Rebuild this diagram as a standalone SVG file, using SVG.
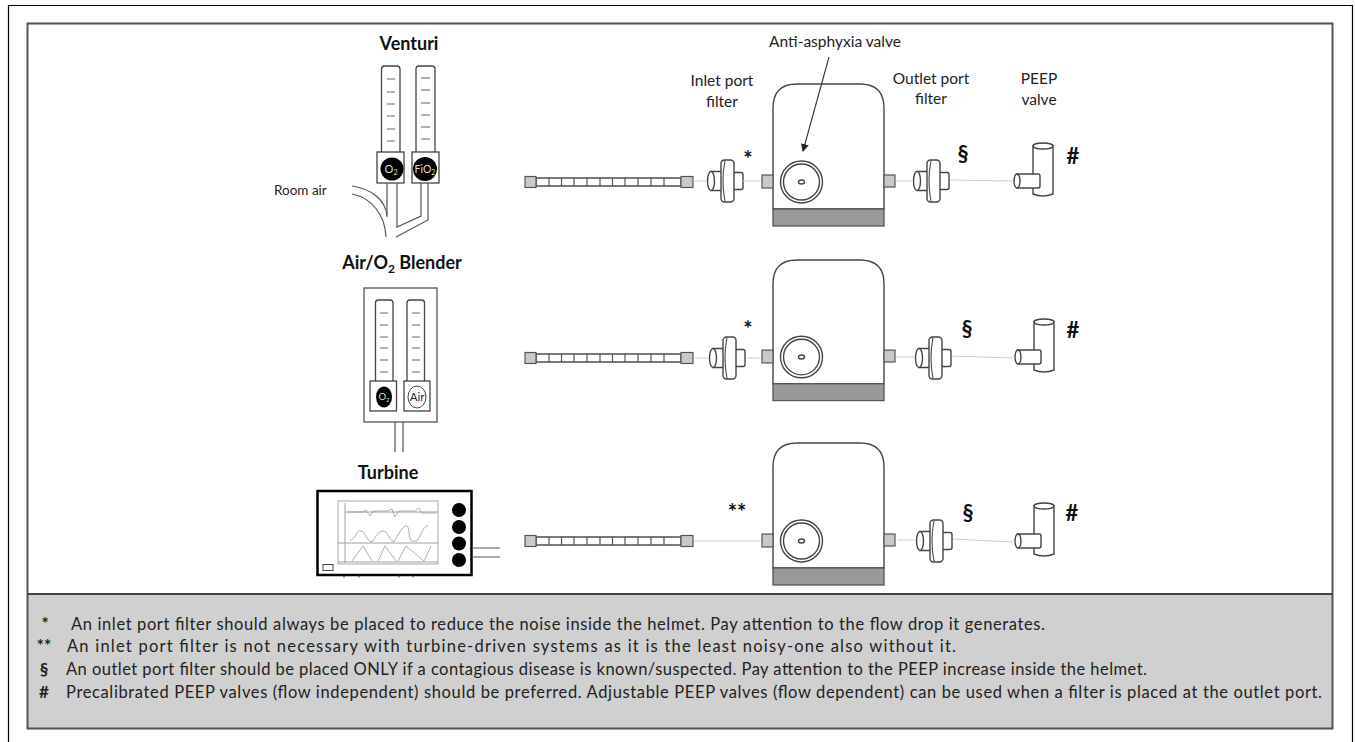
<svg xmlns="http://www.w3.org/2000/svg" width="1355" height="742" viewBox="0 0 1355 742">
<style>
text{font-family:Lato,"Open Sans","Liberation Sans",sans-serif;fill:#222}
.t{font-size:15.500px;text-anchor:middle}
.h{font-size:18px;font-weight:700;text-anchor:middle;fill:#111}
.m{font-size:22px;font-weight:700;text-anchor:middle;fill:#111}
.n{font-size:16.500px}
.nm{font-size:17px;font-weight:700;text-anchor:middle}
.o{fill:#fff;stroke:#444;stroke-width:1.400}
.l{fill:none;stroke:#555;stroke-width:1.200}
.d{fill:none;stroke:#444;stroke-width:1.300}
.p{fill:#c9c9c9;stroke:#555;stroke-width:1.200}
.c{fill:none;stroke:#ccc;stroke-width:1}
.tk{stroke:#666;stroke-width:1.100}
</style>
<defs>
<marker id="ah" markerWidth="8" markerHeight="8" refX="7" refY="4" orient="auto" markerUnits="userSpaceOnUse"><path d="M0 0L8 4L0 8z" fill="#222"/></marker>
<g id="tube">
<rect class="o" x="536" y="-4" width="145" height="8"/>
<path class="l" d="M549 -4v8M561.500 -4v8M574 -4v8M587 -4v8M600 -4v8M612.500 -4v8M625 -4v8M638 -4v8M651 -4v8M664 -4v8"/>
<rect class="p" x="525" y="-5.500" width="11" height="11"/>
<rect class="p" x="681" y="-5.500" width="12" height="11"/>
</g>
<g id="filt">
<rect class="o" x="21" y="-8.500" width="11" height="17" rx="2"/>
<path class="o" d="M0 -9.500H13V9.500H0z"/>
<ellipse class="o" cx="0" cy="0" rx="3.500" ry="9.500"/>
<rect class="o" x="10" y="-21" width="13" height="42" rx="3.500"/>
<path class="l" d="M14 -20.500q-4 20.500 0 41"/>
</g>
<g id="peep">
<path class="o" d="M0 3V51q10 4 20 0V3z"/>
<ellipse class="o" cx="10" cy="3" rx="10" ry="3"/>
<path class="o" d="M-16 31H5q2 0 2 2V43q0 2 -2 2H-16z"/>
<ellipse class="o" cx="-16" cy="38" rx="3" ry="7"/>
</g>
<g id="helm">
<path class="o" d="M0 125V24Q0 0 24 0H87Q111 0 111 24V125z"/>
<rect x="0" y="125" width="111" height="17" fill="#999" stroke="#555" stroke-width="1.300"/>
<rect class="p" x="-11" y="91" width="11" height="13"/>
<rect class="p" x="111" y="91" width="11" height="12"/>
<circle class="o" cx="28.500" cy="98" r="21"/>
<circle class="o" cx="28.500" cy="98" r="18"/>
<ellipse class="o" cx="28.500" cy="98" rx="3" ry="2"/>
</g>
</defs>
<rect width="1355" height="742" fill="#fff"/>
<path d="M8.500 742V5.500H1352.500V742" fill="none" stroke="#000" stroke-width="1.200"/>
<rect id="panel" x="27.500" y="594" width="1305" height="134.500" fill="#d0d0d0"/>
<rect id="frame" x="27.500" y="23.500" width="1305" height="705" fill="none" stroke="#555" stroke-width="2"/>
<path d="M27.500 594H1332.500" stroke="#444" stroke-width="2"/>

<g id="venturi">
<text class="h" x="409" y="50">Venturi</text>
<rect class="d" x="381.500" y="66" width="18.500" height="100" rx="3"/>
<rect class="d" x="416" y="66" width="19" height="100" rx="3"/>
<path class="tk" d="M387 79h8M387 92h8M387 104h8M387 116h8M387 129h8M387 141h8M421 78h9M421 90h9M421 103h9M421 115h9M421 127h9M421 139h9"/>
<rect x="377" y="152" width="27" height="31" fill="#fff" stroke="#444" stroke-width="1.300"/>
<rect x="412" y="152" width="27" height="31" fill="#fff" stroke="#444" stroke-width="1.300"/>
<circle cx="392" cy="169" r="11.500" fill="#000"/>
<circle cx="425" cy="169" r="12" fill="#000"/>
<text x="391" y="173" font-size="11" text-anchor="middle" style="fill:#ddd">O<tspan font-size="7" dy="2" style="fill:#ddd">2</tspan></text>
<text x="425" y="173" font-size="10.500" text-anchor="middle" style="fill:#ddd">FiO<tspan font-size="7" dy="2" style="fill:#ddd">2</tspan></text>
<path class="l" d="M387 183V217M397 183V227L421 216V183M428 183V220L396 237"/>
<path class="l" d="M352 186C372 189 385 200 387 215M352 194C372 198 385 215 386 237"/>
<text x="274" y="195" font-size="13.500">Room air</text>
</g>

<g id="blender">
<text class="h" x="402" y="269">Air/O<tspan font-size="12" dy="4">2</tspan><tspan dy="-4"> Blender</tspan></text>
<rect x="364" y="288" width="73" height="134" fill="#fff" stroke="#555" stroke-width="1.300"/>
<rect class="d" x="375.500" y="300" width="17.500" height="90" rx="3"/>
<rect class="d" x="407" y="300" width="17.500" height="90" rx="3"/>
<path class="tk" d="M380 313h8M380 325h8M380 337h8M380 348h8M380 360h8M380 372h8M412 313h8M412 325h8M412 337h8M412 348h8M412 360h8M412 372h8"/>
<rect x="370" y="381" width="26.500" height="30" fill="#fff" stroke="#444" stroke-width="1.300"/>
<rect x="404" y="381" width="26" height="30" fill="#fff" stroke="#444" stroke-width="1.300"/>
<ellipse cx="384" cy="397" rx="8" ry="10.500" fill="#000"/>
<ellipse cx="417" cy="397" rx="9" ry="11" fill="#fff" stroke="#444"/>
<text x="384" y="400" font-size="9.500" text-anchor="middle" style="fill:#ddd">O<tspan font-size="6" dy="2" style="fill:#ddd">2</tspan></text>
<text x="417" y="401" font-size="11.500" text-anchor="middle">Air</text>
<path class="l" d="M395 422V452M403 422V452"/>
</g>

<g id="turbine">
<text class="h" x="388" y="479">Turbine</text>
<rect x="317.500" y="491" width="154" height="84" fill="#fff" stroke="#000" stroke-width="2.500"/>
<rect x="338" y="501" width="100" height="63" fill="#fff" stroke="#aaa"/>
<path d="M345 503V563M345 512H438M338 543H438M338 562H438" fill="none" stroke="#888" stroke-width=".8"/>
<path d="M348 512h15l3 -2 4 6 3 -5h14l5 -2 3 8 4 -6h16l4 -3 3 5h14" fill="none" stroke="#999" stroke-width=".8"/>
<path d="M350 541C358 536 356 530 361 531C366 532 366 541 372 542C376 536 380 530 384 531C388 532 389 540 394 542C398 535 403 525 407 526C410 527 408 540 412 541H417C421 535 424 525 428 526" fill="none" stroke="#999" stroke-width=".8"/>
<path d="M352 561L363 546L372 561M378 561L385 546L396 561M398 561L406 546L424 561L431 546" fill="none" stroke="#999" stroke-width=".8"/>
<circle cx="459" cy="510" r="7" fill="#000"/>
<circle cx="459" cy="527" r="7" fill="#000"/>
<circle cx="459" cy="543.500" r="7" fill="#000"/>
<circle cx="459" cy="560" r="7" fill="#000"/>
<rect x="323" y="564.500" width="10" height="6" fill="#fff" stroke="#444"/>
<path d="M472 548H500M472 557H500" class="l"/>
<path d="M344 575v2.500M359 575v2.500M399 575v2.500M413 575v2.500" stroke="#333"/>
</g>

<g id="row1">
<use href="#tube" transform="translate(0,182)"/>
<use href="#filt" transform="translate(711,181)"/>
<use href="#helm" transform="translate(773,84)"/>
<use href="#filt" transform="translate(917,181)"/>
<use href="#peep" transform="translate(1033,143)"/>
<text class="t" x="835" y="47">Anti-asphyxia valve</text>
<text class="t" x="722" y="86">Inlet port</text>
<text class="t" x="722" y="107">filter</text>
<text class="t" x="931" y="84">Outlet port</text>
<text class="t" x="931" y="104">filter</text>
<text class="t" x="1039" y="84">PEEP</text>
<text class="t" x="1039" y="105">valve</text>
<text class="m" x="748" y="167">*</text>
<text class="m" x="963" y="162">§</text>
<text class="m" x="1073" y="164">#</text>
</g>
<g id="row2">
<use href="#tube" transform="translate(0,358)"/>
<use href="#filt" transform="translate(713,358)"/>
<use href="#helm" transform="translate(773,260) scale(1,.99)"/>
<use href="#filt" transform="translate(919,358)"/>
<use href="#peep" transform="translate(1034,319)"/>
<text class="m" x="748" y="337">*</text>
<text class="m" x="967" y="337">§</text>
<text class="m" x="1073" y="338">#</text>
</g>
<g id="row3">
<use href="#tube" transform="translate(0,541)"/>
<use href="#helm" transform="translate(773,443)"/>
<use href="#filt" transform="translate(920,541)"/>
<use href="#peep" transform="translate(1034,503)"/>
<text class="m" x="737" y="520">**</text>
<text class="m" x="968" y="521">§</text>
<text class="m" x="1072" y="521">#</text>
</g>

<g id="connectors">
<path class="c" d="M693 181H706M743 181H761"/>
<path class="c" d="M895 181H912M950 180L1013 181"/>
<path class="c" d="M695 358H709M747 358H761"/>
<path class="c" d="M896 357H914M952 356L1013 358"/>
<path class="c" d="M694 541H761"/>
<path class="c" d="M897 540H915M953 539L1013 542"/>
<path d="M829 57L803 151" fill="none" stroke="#333" stroke-width="1.100" marker-end="url(#ah)"/>
</g>

<g id="notes">
<text class="nm" x="45" y="630">*</text>
<text class="n" x="71" y="630" textLength="974">An inlet port filter should always be placed to reduce the noise inside the helmet. Pay attention to the flow drop it generates.</text>
<text class="nm" x="44" y="652">**</text>
<text class="n" x="67" y="652" textLength="889">An inlet port filter is not necessary with turbine-driven systems as it is the least noisy-one also without it.</text>
<text class="nm" x="44" y="675">§</text>
<text class="n" x="66" y="675" textLength="1081">An outlet port filter should be placed ONLY if a contagious disease is known/suspected. Pay attention to the PEEP increase inside the helmet.</text>
<text class="nm" x="44" y="698">#</text>
<text class="n" x="66" y="698" textLength="1256">Precalibrated PEEP valves (flow independent) should be preferred. Adjustable PEEP valves (flow dependent) can be used when a filter is placed at the outlet port.</text>
</g>
</svg>
